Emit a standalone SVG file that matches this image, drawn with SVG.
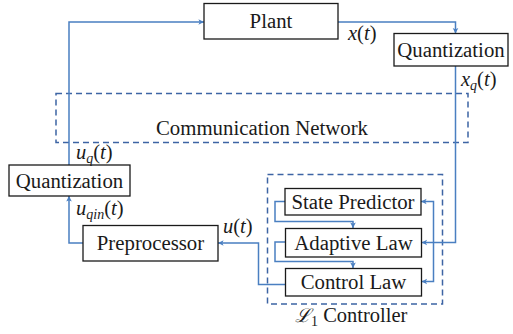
<svg xmlns="http://www.w3.org/2000/svg" width="513" height="334" viewBox="0 0 513 334">
<defs>
<marker id="ah" viewBox="0 0 10 10" refX="9" refY="5" markerWidth="7" markerHeight="7" markerUnits="userSpaceOnUse" orient="auto">
<path d="M1,1 L9,5 L1,9 L3,5 Z" fill="#4a7fc1"/>
</marker>
<style>
.box{fill:#fff;stroke:#1a1a1a;stroke-width:1.3}
text{font-family:'Liberation Serif','Times New Roman','DejaVu Serif',serif}
.t{font-size:20.8px;fill:#1a1a1a;text-anchor:middle}
.m{font-size:20.5px;fill:#1a1a1a}
.i{font-style:italic}
.s{font-size:14px;font-style:italic}
.w{fill:none;stroke:#4a7fc1;stroke-width:1.5}
.a{marker-end:url(#ah)}
.d{fill:none;stroke:#3d64a4;stroke-width:1.5;stroke-dasharray:6 4}
</style>
</defs>
<g id="network">
<rect class="d" x="56" y="93.5" width="412" height="49"/>
<text class="t" x="262" y="135">Communication Network</text>
</g>
<g id="controller">
<rect class="d" x="267.5" y="174.5" width="175" height="129.5"/>
<text class="m" x="295" y="322"><tspan font-family="'DejaVu Serif',serif" font-style="italic" font-size="19">ℒ</tspan><tspan font-size="14" dy="4">1</tspan><tspan dy="-4"> Controller</tspan></text>
</g>
<g id="connectors">
<polyline class="w a" points="69,165 69,22 204,22"/>
<polyline class="w a" points="338,22 455.5,22 455.5,33.5"/>
<polyline class="w a" points="455.5,66 455.5,242.5 421.5,242.5"/>
<polyline class="w a" points="433.5,242.5 433.5,201.5 421,201.5"/>
<polyline class="w a" points="433.5,242.5 433.5,281.5 421.5,281.5"/>
<polyline class="w a" points="285,201.5 275,201.5 275,221.5 353,221.5 353,228"/>
<polyline class="w a" points="285.5,242 275,242 275,261.5 353,261.5 353,268"/>
<polyline class="w a" points="285.5,284.5 258.5,284.5 258.5,243 218,243"/>
<polyline class="w a" points="83,243 69,243 69,196"/>
</g>
<g id="plant">
<rect class="box" x="204" y="3.5" width="134" height="35.5"/>
<text class="t" x="271" y="28">Plant</text>
</g>
<g id="quantization-out">
<rect class="box" x="394" y="33.5" width="114" height="32.5"/>
<text class="t" x="451" y="56.5">Quantization</text>
</g>
<g id="quantization-in">
<rect class="box" x="9" y="165" width="121" height="31"/>
<text class="t" x="69.5" y="187.5">Quantization</text>
</g>
<g id="preprocessor">
<rect class="box" x="83" y="225.5" width="135" height="35.5"/>
<text class="t" x="150.5" y="250">Preprocessor</text>
</g>
<g id="state-predictor">
<rect class="box" x="285" y="188.5" width="136" height="26.5"/>
<text class="t" x="353" y="208.5">State Predictor</text>
</g>
<g id="adaptive-law">
<rect class="box" x="285.5" y="228.5" width="136" height="28.5"/>
<text class="t" x="353.5" y="249.5">Adaptive Law</text>
</g>
<g id="control-law">
<rect class="box" x="285.5" y="268.5" width="136" height="27.5"/>
<text class="t" x="353.5" y="289">Control Law</text>
</g>
<g id="labels">
<text class="m" x="348" y="40"><tspan class="i">x</tspan>(<tspan class="i">t</tspan>)</text>
<text class="m" x="461" y="86"><tspan class="i">x</tspan><tspan class="s" dy="4">q</tspan><tspan dy="-4">(</tspan><tspan class="i">t</tspan>)</text>
<text class="m" x="76" y="159"><tspan class="i">u</tspan><tspan class="s" dy="4">q</tspan><tspan dy="-4">(</tspan><tspan class="i">t</tspan>)</text>
<text class="m" x="76" y="215"><tspan class="i">u</tspan><tspan class="s" dy="4">qin</tspan><tspan dy="-4">(</tspan><tspan class="i">t</tspan>)</text>
<text class="m" x="223" y="233"><tspan class="i">u</tspan>(<tspan class="i">t</tspan>)</text>
</g>
</svg>
